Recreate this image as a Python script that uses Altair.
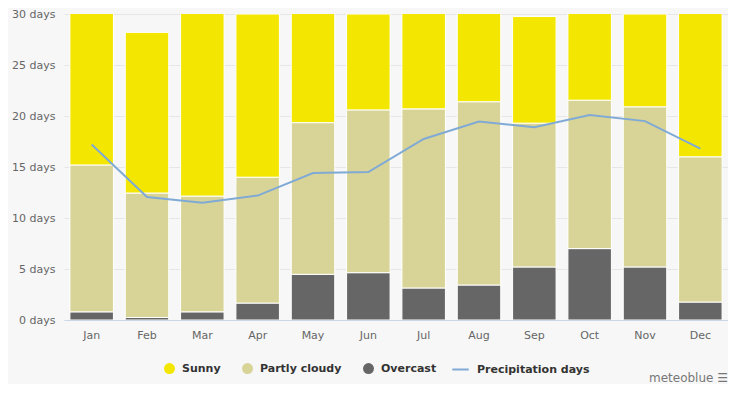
import altair as alt
import pandas as pd

months = ["Jan", "Feb", "Mar", "Apr", "May", "Jun", "Jul", "Aug", "Sep", "Oct", "Nov", "Dec"]
overcast = [0.8, 0.25, 0.8, 1.66, 4.48, 4.64, 3.14, 3.43, 5.2, 7.0, 5.2, 1.76]
partly_cloudy = [14.4, 12.2, 11.35, 12.34, 14.87, 15.96, 17.56, 17.97, 14.1, 14.55, 15.7, 14.24]
sunny = [15.8, 15.75, 18.85, 16.0, 11.65, 9.4, 10.3, 9.6, 10.45, 9.45, 9.1, 15.0]
precipitation = [17.2, 12.05, 11.5, 12.2, 14.4, 14.5, 17.75, 19.45, 18.9, 20.1, 19.5, 16.8]

series = ["Sunny", "Partly cloudy", "Overcast"]
colors = ["#f3e600", "#d8d396", "#666666"]
line_color = "#80aad6"

rows = []
for i, m in enumerate(months):
    rows.append({"month": m, "type": "Overcast", "order": 0, "days": overcast[i]})
    rows.append({"month": m, "type": "Partly cloudy", "order": 1, "days": partly_cloudy[i]})
    rows.append({"month": m, "type": "Sunny", "order": 2, "days": sunny[i]})
bars_df = pd.DataFrame(rows)
line_df = pd.DataFrame({"month": months, "days": precipitation, "series": "Precipitation days"})

x = alt.X("month:N", sort=months, title=None,
          scale=alt.Scale(paddingInner=0.214, paddingOuter=0.107),
          axis=alt.Axis(labelAngle=0, ticks=False, domainColor="#ccd6eb",
                        labelColor="#666666", labelFontSize=11, labelPadding=9))
y = alt.Y("days:Q", stack="zero", title=None,
          scale=alt.Scale(domain=[0, 30], nice=False),
          axis=alt.Axis(values=[0, 5, 10, 15, 20, 25, 30], labelExpr="datum.value + ' days'",
                        domain=False, ticks=False, gridColor="#e6e6e6",
                        labelColor="#666666", labelFontSize=11, labelPadding=9))

bars = alt.Chart(bars_df).mark_bar(stroke="white", strokeWidth=1, clip=True).encode(
    x=x,
    y=y,
    color=alt.Color("type:N", scale=alt.Scale(domain=series, range=colors),
                    legend=alt.Legend(title=None, orient="none", direction="horizontal",
                                      legendX=100, legendY=349,
                                      symbolType="circle", symbolSize=120,
                                      symbolStrokeWidth=0, symbolOpacity=1,
                                      labelFontWeight="bold", labelFontSize=11,
                                      labelColor="#333333", columnPadding=21,
                                      labelOffset=7)),
    order=alt.Order("order:Q"),
)

line = alt.Chart(line_df).mark_line(strokeWidth=2).encode(
    x=alt.X("month:N", sort=months),
    y=alt.Y("days:Q"),
    stroke=alt.Stroke("series:N", scale=alt.Scale(range=[line_color]),
                      legend=alt.Legend(title=None, orient="none", direction="horizontal",
                                        legendX=387, legendY=346,
                                        symbolType="stroke",
                                        symbolStrokeWidth=2, symbolSize=270,
                                        labelFontWeight="bold", labelFontSize=11,
                                        labelColor="#333333", labelOffset=7)),
)

chart = alt.layer(bars, line).properties(
    width=664,
    height=306,
    padding={"left": 3, "right": 0, "top": 0, "bottom": 0},
    background="#f7f7f7",
    title=alt.TitleParams("meteoblue  ☰", orient="bottom", anchor="end", fontSize=12,
                          fontWeight="normal", color="#777777", offset=-2),
).configure(font="DejaVu Sans").configure_view(stroke=None)

chart.save("out.html", embed_options={"renderer": "svg", "actions": False})
